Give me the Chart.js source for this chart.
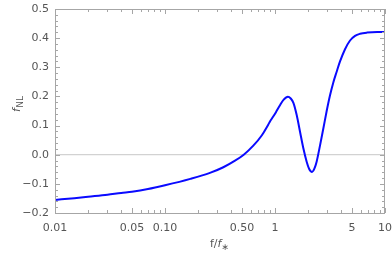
<!DOCTYPE html>
<html>
<head>
<meta charset="utf-8">
<script src="https://cdn.jsdelivr.net/npm/chart.js@4.4.1/dist/chart.umd.min.js"></script>
<style>
html,body{margin:0;padding:0;background:#fff;}
#wrap{width:392px;height:257px;}
</style>
</head>
<body>
<div id="wrap"><canvas id="c" width="392" height="257"></canvas></div>
<script>
// ---- data ----
const freqs = [0.01,0.015,0.02,0.03,0.04,0.05,0.07,0.1,0.17,0.256,0.339,0.433,0.523,0.635,0.757,0.87,0.9,0.96,1.02,1.11,1.2,1.31,1.39,1.47,1.575,1.69,1.81,1.94,2.04,2.17,2.28,2.39,2.57,2.75,2.95,3.16,3.39,3.63,3.9,4.33,4.81,5.34,5.93,6.85,8.5,10];
const fnl   = [-0.155,-0.149,-0.144,-0.137,-0.131,-0.127,-0.118,-0.105,-0.083,-0.0625,-0.043,-0.0205,0.001,0.031,0.066,0.104,0.114,0.130,0.146,0.170,0.189,0.199,0.193,0.178,0.136,0.078,0.022,-0.024,-0.048,-0.059,-0.048,-0.024,0.033,0.090,0.150,0.203,0.248,0.284,0.320,0.362,0.392,0.408,0.415,0.419,0.421,0.421];
const xTickValues = [0.01,0.05,0.1,0.5,1,5,10];
const xTickLabels = ['0.01','0.05','0.10','0.50','1','5','10'];
const xMinorValues = [0.02,0.03,0.04,0.06,0.07,0.08,0.09,0.2,0.3,0.4,0.6,0.7,0.8,0.9,2,3,4,6,7,8,9];
const yTickValues = [-0.2,-0.1,0,0.1,0.2,0.3,0.4,0.5];
const yTickLabels = ['\u22120.2','\u22120.1','0.0','0.1','0.2','0.3','0.4','0.5'];
const yMinorValues = [];
for (let i = -20; i <= 50; i += 2) { if (i % 10 !== 0) yMinorValues.push(i/100); }

const points = freqs.map((f,i)=>({x:f, y:fnl[i]}));
const FONT = 'DejaVu Sans';
const frameColor = '#a6a6a6';
const textColor = '#555555';

const framePlugin = {
  id:'frame',
  afterDraw(chart){
    const ctx = chart.ctx, a = chart.chartArea;
    const xs = chart.scales.x, ys = chart.scales.y;
    ctx.save();
    ctx.strokeStyle = frameColor;
    ctx.lineWidth = 1;
    ctx.strokeRect(Math.round(a.left)+0.5, Math.round(a.top)+0.5, Math.round(a.right-a.left)-1, Math.round(a.bottom-a.top));
    ctx.beginPath();
    const tickX = (v,len)=>{
      const p = Math.round(xs.getPixelForValue(v))+0.5;
      ctx.moveTo(p,a.bottom); ctx.lineTo(p,a.bottom-len);
      ctx.moveTo(p,a.top); ctx.lineTo(p,a.top+len);
    };
    const tickY = (v,len)=>{
      const p = Math.round(ys.getPixelForValue(v))+0.5;
      ctx.moveTo(a.left,p); ctx.lineTo(a.left+len,p);
      ctx.moveTo(a.right,p); ctx.lineTo(a.right-len,p);
    };
    xTickValues.forEach(v=>tickX(v,5));
    xMinorValues.forEach(v=>tickX(v,3));
    yTickValues.forEach(v=>tickY(v,5));
    yMinorValues.forEach(v=>tickY(v,3));
    ctx.stroke();

    // axis titles
    ctx.fillStyle = textColor;
    ctx.textBaseline = 'alphabetic';
    let x0 = 210, yb = 247;
    ctx.font = '11px "' + FONT + '"';
    ctx.textAlign = 'left';
    ctx.fillText('f/', x0, yb);
    let w = ctx.measureText('f/').width;
    ctx.font = 'italic 11px "' + FONT + '"';
    ctx.fillText('f', x0+w, yb);
    w += ctx.measureText('f').width;
    ctx.font = '9px "' + FONT + '"';
    ctx.fillText('\u2217', x0+w, yb+3);
    ctx.save();
    ctx.translate(20, 112);
    ctx.rotate(-Math.PI/2);
    ctx.font = 'italic 11px "' + FONT + '"';
    ctx.fillText('f', 0, 0);
    const fw = ctx.measureText('f').width;
    ctx.font = '9px "' + FONT + '"';
    ctx.fillText('NL', fw+0.5, 3);
    ctx.restore();
    ctx.restore();
  }
};

new Chart(document.getElementById('c'), {
  type:'line',
  data:{ datasets:[{
    data: points,
    borderColor:'#0a0aff',
    borderWidth:2,
    pointRadius:0,
    fill:false,
    cubicInterpolationMode:'monotone'
  }]},
  options:{
    responsive:false,
    animation:false,
    events:[],
    layout:{padding:{top:9,right:7,left:0,bottom:0}},
    plugins:{legend:{display:false},tooltip:{enabled:false}},
    scales:{
      x:{
        type:'logarithmic', min:0.01, max:10,
        afterBuildTicks(s){ s.ticks = xTickValues.map(v=>({value:v})); },
        afterFit(s){ s.height = 44; s.paddingLeft = 0; s.paddingRight = 0; s.paddingTop = 0; s.paddingBottom = 0; },
        border:{display:false},
        grid:{display:false, drawTicks:false},
        ticks:{
          autoSkip:false, maxRotation:0, padding:9,
          color:textColor, font:{family:FONT,size:11},
          callback(v){ const i = xTickValues.findIndex(t=>Math.abs(t-v)<1e-9); return i>=0 ? xTickLabels[i] : ''; }
        }
      },
      y:{
        type:'linear', min:-0.2, max:0.5,
        afterBuildTicks(s){ s.ticks = yTickValues.map(v=>({value:v})); },
        afterFit(s){ s.width = 55; s.paddingTop = 0; s.paddingBottom = 0; s.paddingLeft = 0; s.paddingRight = 0; },
        border:{display:false},
        grid:{
          drawTicks:false,
          color(c){ return (c.tick && Math.abs(c.tick.value)<1e-9) ? '#d2d2d2' : 'rgba(0,0,0,0)'; },
          lineWidth:1.3
        },
        ticks:{
          autoSkip:false, padding:6,
          color:textColor, font:{family:FONT,size:11},
          callback(v){ const i = yTickValues.findIndex(t=>Math.abs(t-v)<1e-9); return i>=0 ? yTickLabels[i] : ''; }
        }
      }
    }
  },
  plugins:[framePlugin]
});
</script>
</body>
</html>
